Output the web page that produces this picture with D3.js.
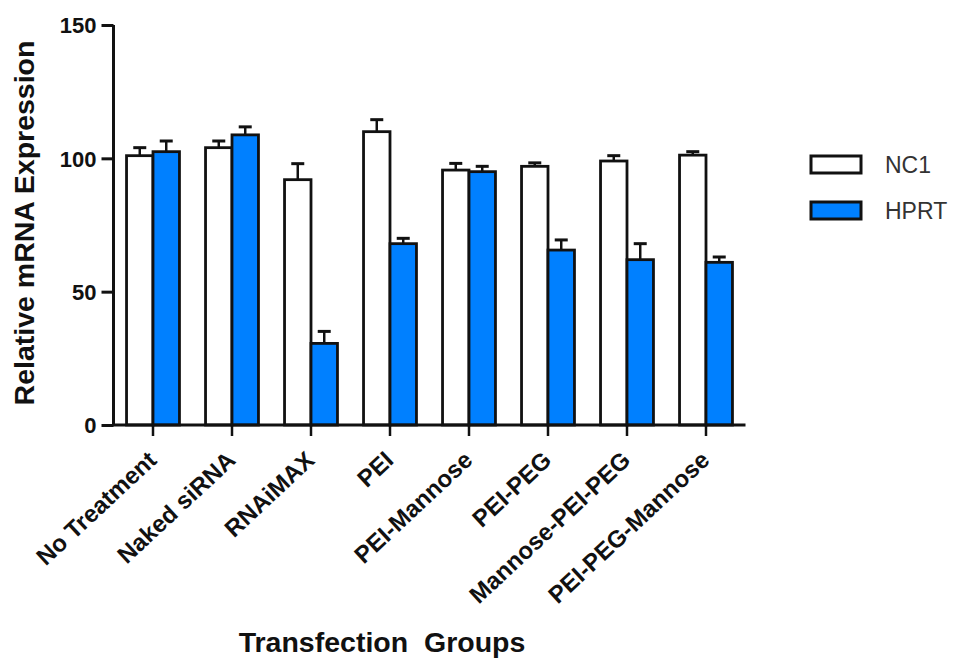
<!DOCTYPE html>
<html><head><meta charset="utf-8">
<script src="https://cdn.jsdelivr.net/npm/d3@7"></script>
<style>
html,body{margin:0;padding:0;background:#fff;}
svg{display:block;font-family:"Liberation Sans",Arial,sans-serif;}
</style></head>
<body><svg id="chart" width="953" height="658"></svg>
<script>
const categories = ["No Treatment","Naked siRNA","RNAiMAX","PEI","PEI-Mannose","PEI-PEG","Mannose-PEI-PEG","PEI-PEG-Mannose"];
const seriesNames = ["NC1","HPRT"];
const nc1Values = [101, 104, 92, 110, 95.6, 97, 99, 101.2];
const nc1Errors = [3, 2.5, 6, 4.5, 2.5, 1.3, 2, 1.3];
const hprtValues = [102.5, 108.8, 30.6, 68, 95, 65.6, 62, 61];
const hprtErrors = [4, 3, 4.5, 2, 2, 3.8, 6, 2];
const yTicks = [0, 50, 100, 150];
const colors = ["#ffffff", "#0080ff"];

const svg = d3.select("#chart");
const FONT = "Liberation Sans, Arial, sans-serif";
const x0 = d3.scaleBand().domain(categories).range([113.5, 745.5]).paddingInner(0.33).paddingOuter(0.165);
const x1 = d3.scaleBand().domain(seriesNames).range([0, x0.bandwidth()]).padding(0);
const y = d3.scaleLinear().domain([0, 150]).range([425, 25]);

const data = categories.map((c, i) => ({cat: c, vals: [
  {s: "NC1", v: nc1Values[i], e: nc1Errors[i]},
  {s: "HPRT", v: hprtValues[i], e: hprtErrors[i]}
]}));

const g = svg.append("g");
const groups = g.selectAll("g.grp").data(data).join("g")
  .attr("transform", d => `translate(${x0(d.cat)},0)`);

// error bars (upper only)
groups.selectAll("g.err").data(d => d.vals).join("g").each(function(d) {
  const sel = d3.select(this);
  const cx = x1(d.s) + x1.bandwidth() / 2;
  sel.append("line").attr("x1", cx).attr("x2", cx).attr("y1", y(d.v)).attr("y2", y(d.v + d.e))
    .attr("stroke", "#111").attr("stroke-width", 2.5);
  sel.append("line").attr("x1", cx - 6.5).attr("x2", cx + 6.5).attr("y1", y(d.v + d.e)).attr("y2", y(d.v + d.e))
    .attr("stroke", "#111").attr("stroke-width", 3);
});

groups.selectAll("rect").data(d => d.vals).join("rect")
  .attr("x", d => x1(d.s))
  .attr("y", d => y(d.v))
  .attr("width", x1.bandwidth())
  .attr("height", d => y(0) - y(d.v))
  .attr("fill", (d, i) => colors[i])
  .attr("stroke", "#111").attr("stroke-width", 2.8);

// Y axis
const yAxis = g.append("g").attr("transform", "translate(113.5,0)")
  .call(d3.axisLeft(y).tickValues(yTicks).tickSize(12).tickPadding(5));
yAxis.select(".domain").attr("stroke", "#111").attr("stroke-width", 3).attr("d", `M0,${y(150)}V${y(0)}`);
yAxis.selectAll(".tick line").attr("stroke", "#111").attr("stroke-width", 3);
yAxis.selectAll(".tick text").attr("font-size", 22).attr("font-weight", "bold").attr("fill", "#111")
  .attr("font-family", FONT).attr("dy", "0.36em");

// X axis
const xAxis = g.append("g").attr("transform", `translate(0,${y(0)})`)
  .call(d3.axisBottom(x0).tickSize(11).tickFormat(""));
xAxis.select(".domain").attr("stroke", "#111").attr("stroke-width", 3).attr("d", `M112,0H745.5`);
xAxis.selectAll(".tick line").attr("stroke", "#111").attr("stroke-width", 2.5);
xAxis.selectAll(".tick").append("text")
  .attr("transform", "translate(5,37) rotate(-43)")
  .attr("text-anchor", "end")
  .attr("font-size", 24).attr("font-weight", "bold").attr("fill", "#111")
  .attr("font-family", FONT)
  .text(d => d);

// axis titles
svg.append("text").attr("transform", "translate(34,223) rotate(-90)")
  .attr("text-anchor", "middle").attr("font-size", 28.5).attr("font-weight", "bold").attr("fill", "#111")
  .attr("font-family", FONT)
  .text("Relative mRNA Expression");
svg.append("text").attr("x", 382).attr("y", 652).attr("text-anchor", "middle")
  .attr("font-size", 28.5).attr("font-weight", "bold").attr("fill", "#111")
  .attr("font-family", FONT)
  .style("white-space", "pre")
  .text("Transfection  Groups");

// legend
const leg = svg.append("g").attr("transform", "translate(811,156)");
const li = leg.selectAll("g").data(seriesNames).join("g").attr("transform", (d, i) => `translate(0,${i * 46})`);
li.append("rect").attr("width", 50).attr("height", 17).attr("fill", (d, i) => colors[i])
  .attr("stroke", "#111").attr("stroke-width", 3);
li.append("text").attr("x", 74).attr("y", 9).attr("dy", "0.36em").attr("font-size", 23)
  .attr("font-family", FONT).attr("fill", "#333").text(d => d);
</script></body></html>
